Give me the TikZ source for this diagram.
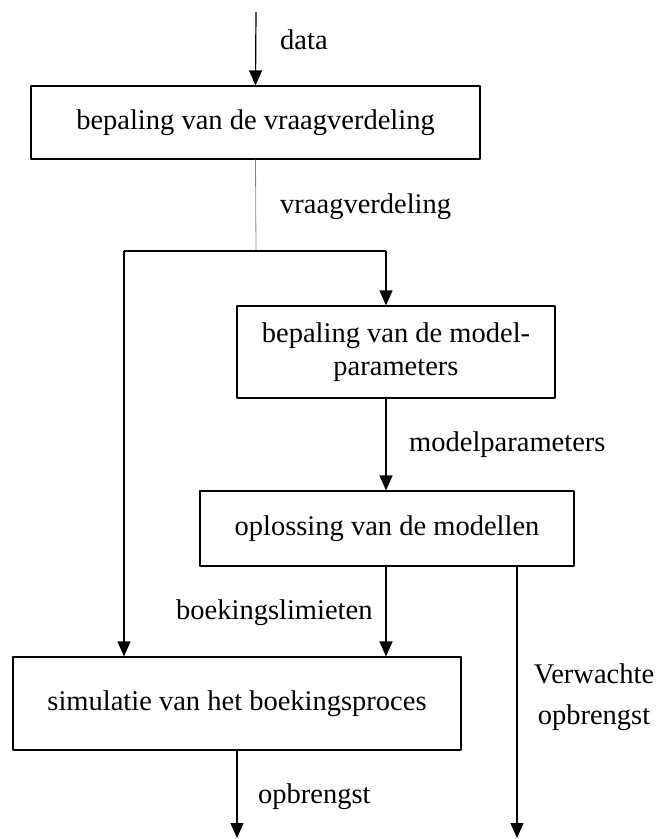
\documentclass[tikz,border=0pt]{standalone}
\usepackage{fontspec}
\setmainfont{Liberation Serif}
\usetikzlibrary{arrows.meta}
\tikzset{
  blok/.style={draw, rectangle, inner sep=0pt, align=center, line width=1.2pt},
  lbl/.style={anchor=west, inner sep=0pt},
}
\begin{document}
\begin{tikzpicture}[x=1pt, y=-1pt, font=\fontsize{28.5}{33}\selectfont, line join=round,
    >={Triangle[length=15pt,width=13pt]}]
\useasboundingbox (0,0) rectangle (663,839);
            \path
            (256,12) coordinate (in)
            (256,251) coordinate (split)
            (124,251) coordinate (kL)
            (386,251) coordinate (kR)
            (517,838) coordinate (uit2)
            (237,838) coordinate (uit1)
            (280,40) coordinate (pdata)
            (280,207) coordinate (pvraag)
            (409,445) coordinate (pmodel)
            (176,613) coordinate (pboek)
            (258,797) coordinate (popbr)
            ;
            \node[blok, minimum width=449pt, minimum height=73pt] (vraag) at (255.5,122.5) {bepaling van de vraagverdeling};
            \node[blok, minimum width=318pt, minimum height=92pt] (param) at (396,352) {bepaling van de model-\\parameters};
            \node[blok, minimum width=374pt, minimum height=75pt] (oplos) at (387,528.5) {oplossing van de modellen};
            \node[blok, minimum width=448pt, minimum height=93pt] (simul) at (237,703.5) {simulatie van het boekingsproces};

            \draw[->, line width=1.2pt] (in) -- (vraag.north);
            \draw[gray, line width=0.8pt] (vraag.south) -- (split);
            \draw[line width=1.2pt] (kL) -- (kR);
            \draw[->, line width=1.2pt] (kR) -- (kR |- param.north);
            \draw[->, line width=1.2pt] (kL) -- (kL |- simul.north);
            \draw[->, line width=1.2pt] (kR |- param.south) -- (kR |- oplos.north);
            \draw[->, line width=1.2pt] (kR |- oplos.south) -- (kR |- simul.north);
            \draw[->, line width=1.2pt] (uit2 |- oplos.south) -- (uit2);
            \draw[->, line width=1.2pt] (simul.south) -- (uit1);

            \foreach \n/\t in {data/data, vraag/vraagverdeling, model/modelparameters, boek/boekingslimieten, opbr/opbrengst}{
                \node[lbl] (l\n) at (p\n) {\t};
            }
            \node[align=center, inner sep=0pt, font=\fontsize{28.5}{41}\selectfont] (lverw) at (594,697) {Verwachte\\opbrengst};
\end{tikzpicture}
\end{document}
